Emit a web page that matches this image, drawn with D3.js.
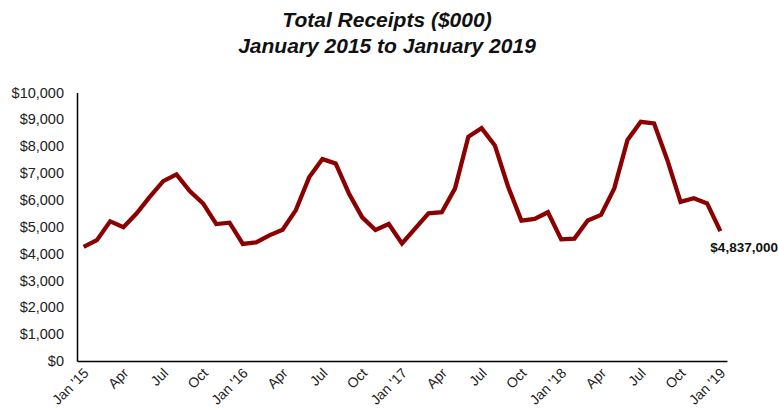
<!DOCTYPE html>
<html><head><meta charset="utf-8">
<script src="https://cdn.jsdelivr.net/npm/d3@7"></script>
<style>body{margin:0;background:#fff}svg{display:block;font-family:"Liberation Sans",Arial,sans-serif}</style>
</head><body>
<svg id="c" width="778" height="412"></svg>
<script>
const months = ["Jan","Feb","Mar","Apr","May","Jun","Jul","Aug","Sep","Oct","Nov","Dec"];
const years = [15,16,17,18,19];
const categories = [];
years.forEach(y => months.forEach((m,i) => { if (y < 19 || i === 0) categories.push(m + " '" + y); }));
const receipts = [
  4250,4500,5200,4980,5500,6120,6700,6950,6330,5870,5100,5150,
  4360,4420,4680,4890,5620,6840,7520,7360,6240,5350,4880,5100,
  4380,4940,5500,5540,6430,8350,8670,8030,6490,5230,5290,5540,
  4530,4560,5230,5440,6430,8230,8910,8850,7490,5930,6060,5870,
  4837
];
const yTicks = [0,1000,2000,3000,4000,5000,6000,7000,8000,9000,10000];
const lastLabel = "$4,837,000";

const svg = d3.select("#c");
const mLeft = 77, mRight = 727, mTop = 92.5, mBottom = 361;
const x = d3.scaleBand().domain(categories).range([mLeft, mRight]).padding(0);
const y = d3.scaleLinear().domain([0,10000]).range([mBottom, mTop]);

svg.append("text").attr("x",387).attr("y",27).attr("text-anchor","middle")
  .style("font-size","21px").style("font-weight","bold").style("font-style","italic").attr("fill","#111")
  .text("Total Receipts ($000)");
svg.append("text").attr("x",387).attr("y",53).attr("text-anchor","middle")
  .style("font-size","21px").style("font-weight","bold").style("font-style","italic").attr("fill","#111")
  .text("January 2015 to January 2019");

const yAxis = svg.append("g").attr("transform",`translate(${mLeft},0)`)
  .call(d3.axisLeft(y).tickValues(yTicks).tickSize(0).tickPadding(13).tickFormat(d => "$" + d3.format(",")(d)));
yAxis.select(".domain").attr("stroke","#000").attr("stroke-width",1.5);
yAxis.selectAll("text").style("font-size","14.5px").attr("fill","#222");

const shown = categories.filter((c,i) => i % 3 === 0);
const xAxis = svg.append("g").attr("transform",`translate(0,${mBottom})`)
  .call(d3.axisBottom(x).tickValues(shown).tickSize(0).tickPadding(0)
    .tickFormat(d => d.startsWith("Jan") ? d : d.slice(0,3)));
xAxis.select(".domain").attr("stroke","#000").attr("stroke-width",1.5);
xAxis.selectAll("text").style("font-size","14px").attr("fill","#222")
  .attr("text-anchor","end").attr("dy",0)
  .attr("transform","translate(6,13) rotate(-45)");

const line = d3.line().x((d,i) => x(categories[i]) + x.bandwidth()/2).y(d => y(d));
svg.append("path").datum(receipts).attr("d", line)
  .attr("fill","none").attr("stroke","#8b0000").attr("stroke-width",4.3)
  .attr("stroke-linejoin","miter");

const lx = x(categories[categories.length-1]) + x.bandwidth()/2;
svg.append("text").attr("x", lx - 10).attr("y", y(receipts[receipts.length-1]) + 21)
  .style("font-size","13.5px").style("font-weight","bold").attr("fill","#111")
  .text(lastLabel);
</script>
</body></html>
